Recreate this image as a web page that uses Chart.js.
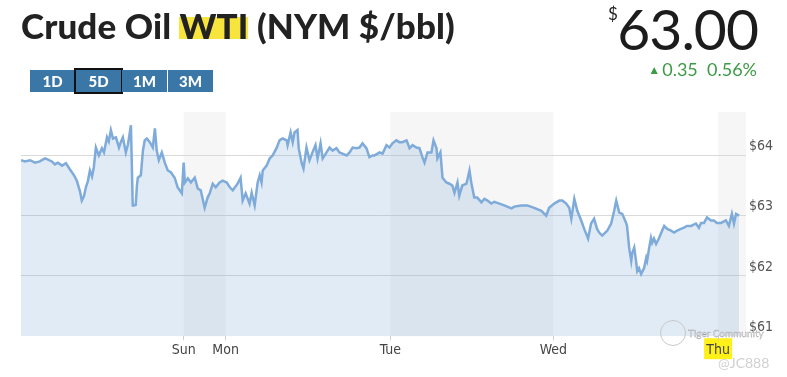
<!DOCTYPE html>
<html>
<head>
<meta charset="utf-8">
<script src="https://cdn.jsdelivr.net/npm/chart.js@4.4.1/dist/chart.umd.min.js"></script>
<style>
    body { margin: 0; background: #fff; }
    #wrap { position: relative; width: 787px; height: 377px; overflow: hidden; font-family: Lato, 'Open Sans', sans-serif; }
    #oilChart { position: absolute; left: 0; top: 0; }
    .title { position: absolute; left: 21px; top: 4px; font-size: 35px; font-weight: 900; color: #222; white-space: nowrap; letter-spacing: 0.1px; }
    .title .mark { background: linear-gradient(to bottom, transparent 32%, #f7e43c 32%, #f7e43c 84%, transparent 84%); }
    .buttons { position: absolute; left: 30px; top: 70px; height: 22px; display: flex; }
    .buttons div { width: 45px; height: 22px; margin-right: 1px; background: #3b77a6; color: #fff; font-weight: 900; font-size: 15px; line-height: 22px; text-align: center; box-sizing: border-box; }
    .buttons div.on { outline: 2px solid #111; }
    .dollar { position: absolute; left: 608px; top: 3px; font-size: 17px; color: #222; }
    .price { position: absolute; right: 29px; top: -6px; font-size: 57px; color: #1c1c1c; letter-spacing: -1px; }
    .change { position: absolute; right: 30px; top: 58px; font-size: 18px; color: #3d9a45; white-space: nowrap; }
    .change .tri { font-size: 12px; vertical-align: 2px; margin-right: 2px; }
    .wm1 { position: absolute; left: 688px; top: 327px; font-size: 10px; color: #e4e4e4; -webkit-text-stroke: 0.3px #9a9a9a; }
    .wm2 { position: absolute; left: 718px; top: 354px; font-size: 14px; color: #d0d0d0; }
    .logo { position: absolute; left: 660px; top: 320px; width: 24px; height: 24px; border: 1px solid #c8c8c8; border-radius: 50%; }
</style>
</head>
<body>
<div id="wrap">
    <canvas id="oilChart" width="787" height="377"></canvas>
    <div class="title">Crude Oil <span class="mark">WTI</span> (NYM $/bbl)</div>
    <div class="buttons"><div>1D</div><div class="on">5D</div><div>1M</div><div>3M</div></div>
    <div class="dollar">$</div>
    <div class="price">63.00</div>
    <div class="change"><span class="tri">▲</span>0.35&nbsp;&nbsp;0.56%</div>
    <div class="logo"></div>
    <div class="wm1">Tiger Community</div>
    <div class="wm2">@JC888</div>
</div>
<script>
// position along the 5 day strip (not linear in hours, weekend is squeezed)
const times = [0, 1.3, 3, 4.7, 6.3, 8, 9, 10.3, 11.3, 12.3, 13.7, 15, 16.3, 17.7, 18.7, 19.7, 20.3, 21, 21.7, 22.3,
    23, 23.7, 24.3, 25, 26, 27, 27.7, 28.7, 29.3, 30, 30.7, 31.7, 32.7, 33.3, 34, 35, 35.7, 36.7, 37.3, 37.7,
    38.3, 38.7, 39, 40, 40.7, 41.3, 42, 43, 44, 44.7, 45.3, 46, 47, 48, 49, 50, 51.3, 52.3, 53.7, 54.3,
    54.7, 55.7, 56.7, 58, 59, 60, 61.3, 62.3, 63, 64, 65, 66.3, 67.3, 68.7, 69.7, 70.7, 72.3, 73.3, 74, 75,
    76.3, 77, 78, 79, 79.7, 80.3, 80.7, 82, 83, 84, 85.3, 86.3, 87.3, 88.7, 89, 90, 90.7, 91.3, 92.3, 92.7,
    93.7, 94.3, 95.3, 96.3, 97.3, 98.3, 99, 100, 100.7, 102, 103, 104, 105.3, 106.3, 107.3, 108.7, 109.7, 110.7, 112, 113,
    114, 115.3, 116.3, 117.3, 118, 119.7, 120.7, 122, 123, 124, 125.3, 126.3, 127.3, 128.7, 129.7, 130.7, 132, 133, 134, 134.7,
    135.7, 137, 137.7, 138.7, 139, 140, 140.7, 142, 143, 144, 144.7, 145.7, 146.3, 147.3, 148.7, 149.7, 150.3, 151.3, 152.3, 153.7,
    154.7, 155.7, 157, 158, 159.7, 161.3, 163.7, 164.7, 167, 169, 171.3, 173.7, 175.3, 176.3, 178, 179.7, 180.7, 182, 183, 183.7,
    184.7, 185.7, 187, 188, 189.3, 190.3, 191.3, 192.3, 193, 194, 195.7, 197, 198, 198.7, 199.7, 200.7, 202, 202.3, 203, 203.7,
    204, 204.7, 205.3, 205.7, 206.3, 207, 208, 208.7, 209, 209.7, 210.3, 210.7, 211.3, 212, 213, 214, 214.7, 215.7, 217, 218,
    219, 220.3, 221.3, 222.3, 223.7, 225.3, 226.3, 227, 228, 229, 230.3, 231.3, 232.3, 233.7, 235.3, 236.3, 237, 237.3, 238, 238.7,
    239.7];
const prices = [63.92, 63.90, 63.92, 63.88, 63.90, 63.95, 63.93, 63.90, 63.85, 63.88, 63.83, 63.87, 63.77, 63.67, 63.57, 63.40, 63.25, 63.32, 63.48, 63.57,
    63.75, 63.65, 63.80, 64.13, 64.00, 64.12, 64.05, 64.30, 64.23, 64.42, 64.28, 64.30, 64.13, 64.22, 64.30, 64.05, 64.18, 64.50, 63.17, 63.17,
    63.18, 63.50, 63.63, 63.67, 64.08, 64.25, 64.28, 64.22, 64.13, 64.45, 64.08, 63.92, 64.05, 63.88, 63.75, 63.72, 63.63, 63.47, 63.37, 63.88,
    63.55, 63.62, 63.55, 63.63, 63.45, 63.42, 63.13, 63.30, 63.37, 63.53, 63.47, 63.55, 63.58, 63.55, 63.47, 63.42, 63.53, 63.63, 63.25, 63.37,
    63.20, 63.38, 63.17, 63.55, 63.67, 63.55, 63.75, 63.83, 63.95, 64.00, 64.12, 64.25, 64.28, 64.25, 64.17, 64.38, 64.22, 64.38, 64.42, 64.12,
    63.87, 63.78, 64.13, 63.92, 64.05, 64.17, 63.95, 64.20, 63.95, 64.05, 64.13, 64.08, 64.12, 64.05, 64.03, 64.00, 64.05, 64.13, 64.12, 64.13,
    64.20, 64.12, 63.97, 64.00, 64.00, 64.05, 64.03, 64.17, 64.13, 64.20, 64.25, 64.22, 64.22, 64.25, 64.12, 64.17, 64.13, 64.12, 63.97, 63.88,
    64.05, 64.05, 64.25, 64.12, 63.95, 64.05, 63.63, 63.55, 63.53, 63.50, 63.38, 63.55, 63.33, 63.50, 63.53, 63.75, 63.55, 63.30, 63.30, 63.22,
    63.28, 63.25, 63.20, 63.23, 63.20, 63.17, 63.12, 63.15, 63.17, 63.17, 63.13, 63.08, 63.00, 63.13, 63.20, 63.25, 63.25, 63.20, 63.13, 62.95,
    63.28, 63.08, 62.92, 62.78, 62.62, 62.87, 62.95, 62.78, 62.72, 62.67, 62.75, 62.87, 63.08, 63.25, 63.05, 63.03, 62.88, 62.83, 62.47, 62.25,
    62.37, 62.47, 62.25, 62.08, 62.13, 62.03, 62.13, 62.30, 62.25, 62.47, 62.63, 62.55, 62.62, 62.53, 62.63, 62.75, 62.83, 62.78, 62.75, 62.72,
    62.75, 62.78, 62.80, 62.83, 62.83, 62.87, 62.80, 62.88, 62.88, 62.97, 62.92, 62.92, 62.88, 62.88, 62.92, 62.83, 62.97, 63.03, 62.87, 63.03,
    63.00];

const dayLabels = ['Sun', 'Mon', 'Tue', 'Wed', 'Thu'];
const dayTicks = [54.3, 68.3, 123.3, 177.7, 232.7];
const priceTicks = [61, 62, 63, 64];
// alternate days get a grey band
const shadedFrom = [54.3, 123.3, 232.7];
const shadedTo = [68.3, 177.7, 242];
const highlightDay = 'Thu';

const axisFont = { family: "'Liberation Sans Narrow', 'DejaVu Sans Condensed', 'Open Sans', sans-serif", size: 14 };

const bandsPlugin = {
    id: 'bands',
    beforeDraw(chart) {
        const { ctx, chartArea, scales } = chart;
        ctx.save();
        ctx.fillStyle = '#f6f6f6';
        shadedFrom.forEach((from, i) => {
            const x1 = scales.x.getPixelForValue(from);
            const x2 = scales.x.getPixelForValue(shadedTo[i]);
            ctx.fillRect(x1, chartArea.top, x2 - x1, chartArea.bottom - chartArea.top);
        });
        // yellow marker behind the current day label
        const idx = dayLabels.indexOf(highlightDay);
        const hx = scales.x.getPixelForValue(dayTicks[idx]);
        ctx.fillStyle = '#fff01a';
        ctx.fillRect(hx - 14, chartArea.bottom + 2, 28, 21);
        ctx.restore();
    }
};

const config = {
    type: 'line',
    data: {
        datasets: [{
            data: times.map((t, i) => ({ x: t, y: prices[i] })),
            borderColor: '#7eabda',
            borderWidth: 2.5,
            backgroundColor: 'rgba(120, 165, 210, 0.22)',
            fill: 'start',
            pointRadius: 0,
            tension: 0
        }]
    },
    options: {
        responsive: false,
        animation: false,
        layout: { padding: { top: 112, left: 21, right: 11, bottom: 16 } },
        plugins: { legend: { display: false }, tooltip: { enabled: false } },
        scales: {
            x: {
                type: 'linear',
                min: 0,
                max: 242,
                border: { display: false },
                grid: { drawOnChartArea: false, tickLength: 4, color: '#cfcfcf' },
                afterBuildTicks: (scale) => { scale.ticks = dayTicks.map(v => ({ value: v })); },
                ticks: {
                    autoSkip: false,
                    maxRotation: 0,
                    padding: 2,
                    color: '#444',
                    font: axisFont,
                    callback: (value, index) => dayLabels[index]
                }
            },
            y: {
                position: 'right',
                min: 61,
                max: 64.72,
                border: { display: false },
                grid: {
                    drawTicks: false,
                    color: (c) => c.tick && c.tick.value === 61 ? 'rgba(0,0,0,0)' : '#d9d9d9'
                },
                afterBuildTicks: (scale) => { scale.ticks = priceTicks.map(v => ({ value: v })); },
                ticks: {
                    padding: 3,
                    labelOffset: -9,
                    color: '#555',
                    font: axisFont,
                    callback: (value) => '$' + value
                }
            }
        }
    },
    plugins: [bandsPlugin]
};

const oilChart = new Chart(document.querySelector('#oilChart'), config);
</script>
</body>
</html>
